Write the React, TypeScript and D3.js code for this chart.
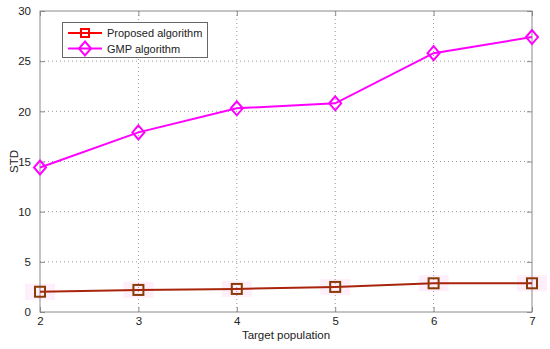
import { useEffect, useRef } from 'react';
import * as d3 from 'd3';

const populations = [2, 3, 4, 5, 6, 7];
const proposed = [2.02, 2.2, 2.3, 2.5, 2.86, 2.86];
const gmp = [14.4, 17.9, 20.3, 20.8, 25.8, 27.4];
const yTicks = [0, 5, 10, 15, 20, 25, 30];

const W = 550;
const H = 349;
const M = { top: 11, right: 18, bottom: 37, left: 40 };

export default function App() {
    const ref = useRef<SVGSVGElement>(null);

    useEffect(() => {
        if (!ref.current) return;
        const svg = d3.select(ref.current);
        svg.selectAll('*').remove();

        const x = d3.scaleLinear().domain([2, 7]).range([M.left, W - M.right]);
        const y = d3.scaleLinear().domain([0, 30]).range([H - M.bottom, M.top]);
        const font = 'Liberation Sans, Arial, sans-serif';
        const fs = 11.5;

        svg.append('rect').attr('width', W).attr('height', H).attr('fill', '#fff');

        // grid
        const grid = svg.append('g').attr('stroke', '#9a9a9a').attr('stroke-width', 1)
            .attr('stroke-dasharray', '1,3');
        populations.slice(1, -1).forEach((p) => {
            grid.append('line').attr('x1', x(p)).attr('x2', x(p))
                .attr('y1', y(0)).attr('y2', y(30));
        });
        yTicks.slice(1, -1).forEach((t) => {
            grid.append('line').attr('x1', x(2)).attr('x2', x(7))
                .attr('y1', y(t)).attr('y2', y(t));
        });

        // frame
        svg.append('rect')
            .attr('x', x(2)).attr('y', y(30))
            .attr('width', x(7) - x(2)).attr('height', y(0) - y(30))
            .attr('fill', 'none').attr('stroke', '#8a8a8a').attr('stroke-width', 1);

        const axB = d3.axisBottom(x).tickValues(populations).tickFormat(d3.format('d'))
            .tickSizeInner(-5).tickSizeOuter(0).tickPadding(5);
        const axL = d3.axisLeft(y).tickValues(yTicks).tickSizeInner(-5).tickSizeOuter(0).tickPadding(9);
        const axR = d3.axisRight(y).tickValues(yTicks).tickFormat(() => '').tickSizeInner(-5).tickSizeOuter(0);
        const axT = d3.axisTop(x).tickValues(populations).tickFormat(() => '').tickSizeInner(-5).tickSizeOuter(0);

        const styleAxis = (g: d3.Selection<SVGGElement, unknown, null, undefined>) => {
            g.select('.domain').remove();
            g.selectAll('.tick line').attr('stroke', '#8a8a8a');
            g.selectAll('text').attr('fill', '#222').attr('font-family', font).attr('font-size', fs);
        };
        svg.append('g').attr('transform', `translate(0,${y(0)})`).call(axB).call(styleAxis);
        svg.append('g').attr('transform', `translate(${x(2)},0)`).call(axL).call(styleAxis);
        svg.append('g').attr('transform', `translate(${x(7)},0)`).call(axR).call(styleAxis);
        svg.append('g').attr('transform', `translate(0,${y(30)})`).call(axT).call(styleAxis);

        // faint halos around proposed markers
        svg.append('g').selectAll('rect').data(proposed).join('rect')
            .attr('x', (_, i) => x(populations[i]) - 15)
            .attr('y', (d) => y(d) - 8)
            .attr('width', 30).attr('height', 16)
            .attr('fill', '#ff66cc').attr('fill-opacity', 0.1);

        const line = d3.line<number>()
            .x((_, i) => x(populations[i]))
            .y((d) => y(d));

        // GMP
        svg.append('path').datum(gmp).attr('d', line)
            .attr('fill', 'none').attr('stroke', '#ff00ff').attr('stroke-width', 2);
        svg.append('g').selectAll('path').data(gmp).join('path')
            .attr('d', (d, i) => {
                const cx = x(populations[i]);
                const cy = y(d);
                return `M${cx},${cy - 7}L${cx + 6},${cy}L${cx},${cy + 7}L${cx - 6},${cy}Z`;
            })
            .attr('fill', 'none').attr('stroke', '#ff00ff').attr('stroke-width', 2);

        // Proposed
        svg.append('path').datum(proposed).attr('d', line)
            .attr('fill', 'none').attr('stroke', '#a8250c').attr('stroke-width', 2);
        svg.append('g').selectAll('rect').data(proposed).join('rect')
            .attr('x', (_, i) => x(populations[i]) - 5)
            .attr('y', (d) => y(d) - 5)
            .attr('width', 10).attr('height', 10)
            .attr('fill', 'none').attr('stroke', '#8a3a06').attr('stroke-width', 2);

        // labels
        svg.append('text').attr('x', (x(2) + x(7)) / 2).attr('y', 339)
            .attr('text-anchor', 'middle').attr('font-family', font).attr('font-size', fs)
            .attr('fill', '#222').text('Target population');
        svg.append('text').attr('transform', `translate(18,${(y(0) + y(30)) / 2}) rotate(-90)`)
            .attr('text-anchor', 'middle').attr('font-family', font).attr('font-size', fs)
            .attr('fill', '#222').text('STD');

        // legend
        const lg = svg.append('g');
        lg.append('rect').attr('x', 62.5).attr('y', 22.5).attr('width', 145).attr('height', 35)
            .attr('fill', '#fff').attr('stroke', '#666');
        const rows = [
            { label: 'Proposed algorithm', color: '#ff0000', marker: 'square' },
            { label: 'GMP algorithm', color: '#ff00ff', marker: 'diamond' },
        ];
        rows.forEach((r, i) => {
            const cy = 33 + i * 15.5;
            lg.append('line').attr('x1', 68).attr('x2', 102).attr('y1', cy).attr('y2', cy)
                .attr('stroke', r.color).attr('stroke-width', 2);
            if (r.marker === 'square') {
                lg.append('rect').attr('x', 81).attr('y', cy - 4).attr('width', 8).attr('height', 8)
                    .attr('fill', 'none').attr('stroke', r.color).attr('stroke-width', 2);
            } else {
                lg.append('path').attr('d', `M85,${cy - 7}L91,${cy}L85,${cy + 7}L79,${cy}Z`)
                    .attr('fill', 'none').attr('stroke', r.color).attr('stroke-width', 2);
            }
            lg.append('text').attr('x', 107).attr('y', cy + 4)
                .attr('font-family', font).attr('font-size', 11).attr('fill', '#222').text(r.label);
        });
    }, []);

    return (
        <svg ref={ref} width={W} height={H} style={{ position: 'absolute', left: 0, top: 0 }} />
    );
}
